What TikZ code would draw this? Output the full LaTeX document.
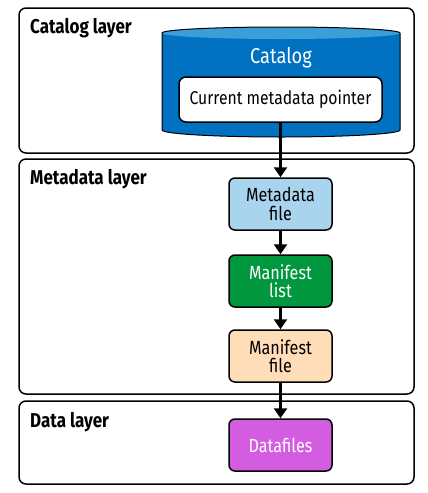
\documentclass[tikz,border=0pt]{standalone}
\usepackage{fontspec}
\setmainfont{Fira Sans}[FakeStretch=0.85]
\usetikzlibrary{arrows.meta}
\definecolor{catdark}{HTML}{0072C1}
\definecolor{cattop}{HTML}{3A9FD9}
\definecolor{metablue}{HTML}{A9D4EE}
\definecolor{mangreen}{HTML}{00973F}
\definecolor{manpeach}{HTML}{FFDDB8}
\definecolor{datamag}{HTML}{D45CE0}
\tikzset{
  layerbox/.style={draw=black, line width=1.5pt, rounded corners=7pt},
  layerlabel/.style={anchor=base west, inner sep=0pt, font=\fontsize{20}{22}\selectfont\bfseries},
  filebox/.style={draw=black, line width=1.5pt, rounded corners=6pt, minimum width=103pt, minimum height=52pt, align=center, inner sep=2pt, font=\fontsize{19}{18.5}\selectfont},
  flow/.style={line width=2.5pt, -{Triangle[length=10pt,width=13pt]}},
}
\begin{document}
\begin{tikzpicture}[x=1pt,y=-1pt]
\useasboundingbox (0,0) rectangle (428,493);
% layers
\draw[layerbox] (19,8) rectangle (414,153);
\draw[layerbox] (19,159) rectangle (414,394);
\draw[layerbox] (19,401) rectangle (414,484);
\node[layerlabel] (lcat) at (30,33) {Catalog layer};
\node[layerlabel] (lmeta) at (30,184) {Metadata layer};
\node[layerlabel] (ldata) at (30,427) {Data layer};
% cylinder
\fill[catdark] (162,33) -- (162,130) arc[start angle=180, end angle=0, x radius=119, y radius=7] -- (400,33) -- cycle;
\fill[cattop] (281,33) ellipse [x radius=119, y radius=6];
\draw[black, line width=1pt] (162,33) -- (162,130) arc[start angle=180, end angle=0, x radius=119, y radius=7] -- (400,33) arc[start angle=0, end angle=-180, x radius=119, y radius=6];
\node[text=white, font=\fontsize{21.5}{24}\selectfont] (cat) at (281,58) {Catalog};
\node[draw=black, fill=white, line width=1.5pt, rounded corners=7pt, minimum width=203pt, minimum height=45pt, font=\fontsize{18.5}{20}\selectfont] (ptr) at (280.5,99.5) {Current metadata pointer};
% file nodes
\node[filebox, fill=metablue] (mf) at (280.5,204) {Metadata\\file};
\node[filebox, fill=mangreen, text=white] (ml) at (280.5,281) {Manifest\\list};
\node[filebox, fill=manpeach] (mfile) at (280.5,356) {Manifest\\file};
\node[filebox, fill=datamag, text=white] (df) at (280.5,445) {Datafiles};
% arrows
\draw[flow] (ptr.south) -- (mf.north);
\draw[flow] (mf.south) -- (ml.north);
\draw[flow] (ml.south) -- (mfile.north);
\draw[flow] (mfile.south) -- (df.north);
\end{tikzpicture}
\end{document}
